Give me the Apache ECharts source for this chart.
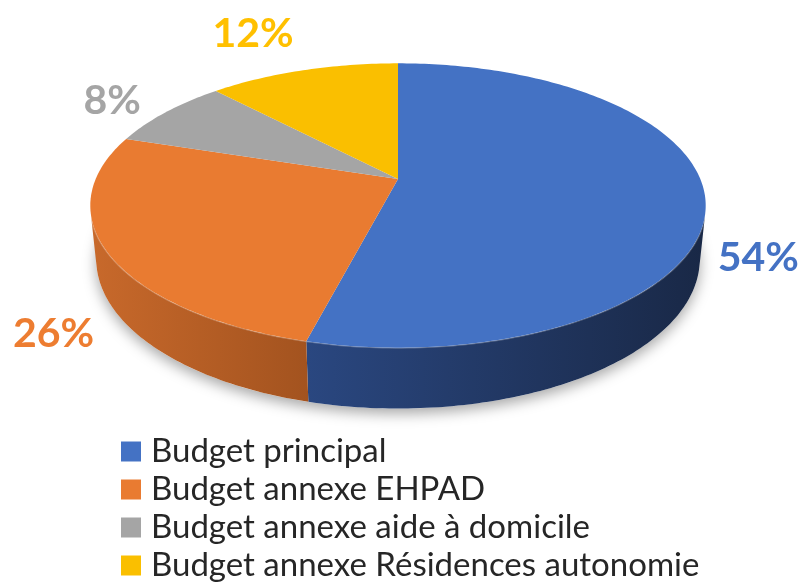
<!DOCTYPE html>
<html>
<head>
<meta charset="utf-8">
<script src="https://cdn.jsdelivr.net/npm/echarts@6/dist/echarts.min.js"></script>
<style>
    html, body { margin: 0; padding: 0; background: #fff; }
    #chart { width: 805px; height: 588px; }
</style>
</head>
<body>
<div id="chart"></div>
<script>
const categories = ['Budget principal', 'Budget annexe EHPAD', 'Budget annexe aide à domicile', 'Budget annexe Résidences autonomie'];
const shares = [54, 26, 8, 12];
const labels = ['54%', '26%', '8%', '12%'];
const topColors = ['#4472C4', '#E97B31', '#A5A5A5', '#FABF00'];
const sideColors = [['#2a4780', '#192846'], ['#c8692b', '#a3531f'], ['#808080', '#5f5f5f'], ['#c99a00', '#9f7900']];
const labelColors = ['#4472C4', '#ED7D31', '#A5A5A5', '#FFC000'];

// fake 3d: a disc seen in perspective
const CX = 398, CY = 179, F = 1445, DIST = 4.78, DEPTH = 0.2;
const PHI = 27 * Math.PI / 180;
const S = Math.sin(PHI), C = Math.cos(PHI);
const total = shares.reduce((a, b) => a + b, 0);
const visibleZ = 1 / (DIST * C);

function proj(theta, r, h) {
    const a = theta * Math.PI / 180;
    const x = r * Math.sin(a), z = -r * Math.cos(a);
    const d = DIST - (h * S + z * C);
    return [CX + F * x / d, CY - F * (h * C - z * S) / d];
}

function arc(a, b, r, h) {
    const pts = [];
    const n = Math.max(2, Math.ceil(Math.abs(b - a)));
    for (let k = 0; k <= n; k++) pts.push(proj(a + (b - a) * k / n, r, h));
    return pts;
}

function sliceRange(i) {
    let start = 0;
    for (let k = 0; k < i; k++) start += shares[k];
    return [start / total * 360, (start + shares[i]) / total * 360];
}

function renderSlice(i) {
    return function (params, api) {
        const [a, b] = sliceRange(i);
        const children = [];
        if (i === 0) {
            children.push({
                type: 'polygon',
                shape: { points: arc(0, 360, 1, -DEPTH) },
                style: { fill: '#fff', shadowBlur: 14, shadowColor: 'rgba(0,0,0,0.35)', shadowOffsetY: 5 }
            });
        }
        // side wall, only the part facing the viewer
        const vs = Math.acos(-visibleZ) * 180 / Math.PI;
        const sa = Math.max(a, vs), sb = Math.min(b, 360 - vs);
        if (sb > sa) {
            const topRim = arc(sa, sb, 1, 0);
            const botRim = arc(sa, sb, 1, -DEPTH).reverse();
            children.push({
                type: 'polygon',
                shape: { points: topRim.concat(botRim) },
                style: {
                    fill: new echarts.graphic.LinearGradient(0, 0, 1, 0, [
                        { offset: 0, color: sideColors[i][0] },
                        { offset: 1, color: sideColors[i][1] }
                    ])
                }
            });
            children.push({
                type: 'polyline',
                shape: { points: topRim },
                style: { stroke: 'rgba(255,255,255,0.25)', lineWidth: 2, fill: null }
            });
        }
        children.push({
            type: 'polygon',
            shape: { points: [proj(0, 0, 0)].concat(arc(a, b, 1, 0)) },
            style: { fill: topColors[i] }
        });
        // label outside the rim
        const mid = (a + b) / 2;
        const mz = -Math.cos(mid * Math.PI / 180);
        const mx = Math.sin(mid * Math.PI / 180);
        const front = mz > 0;
        const p = proj(mid, front ? 1.06 : 1.12, front ? -DEPTH : 0);
        const va = mz > 0.3 ? 'top' : (mz < -0.7 ? 'bottom' : 'middle');
        const dy = va === 'top' ? 0 : va === 'bottom' ? -5 : (front ? 6 : -4);
        children.push({
            type: 'text',
            style: {
                text: labels[i],
                x: p[0], y: p[1] + dy,
                fill: labelColors[i],
                font: 'bold 41px Lato',
                align: mx < 0 ? 'right' : 'left',
                verticalAlign: va
            }
        });
        return { type: 'group', children: children };
    };
}

const chart = echarts.init(document.getElementById('chart'));
chart.setOption({
    animation: false,
    legend: {
        orient: 'vertical',
        left: 121,
        top: 435,
        height: 220,
        padding: 0,
        itemWidth: 20,
        itemHeight: 20,
        itemGap: 5,
        icon: 'rect',
        data: categories,
        textStyle: { fontFamily: 'Lato', fontSize: 33, color: '#262626', padding: [0, 0, 0, 5], lineHeight: 28 }
    },
    series: categories.map((name, i) => ({
        type: 'custom',
        name: name,
        coordinateSystem: 'none',
        itemStyle: { color: topColors[i] },
        data: [shares[i]],
        renderItem: renderSlice(i)
    }))
});
</script>
</body>
</html>
